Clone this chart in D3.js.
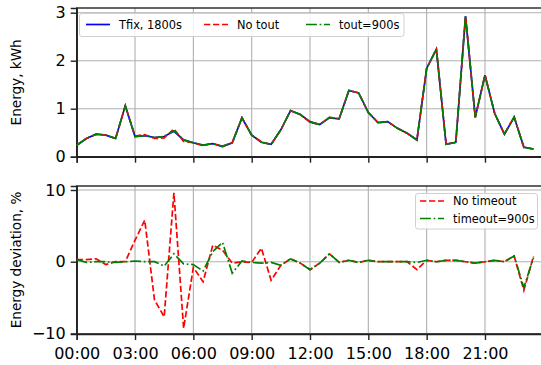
<!DOCTYPE html>
<html>
<head>
<meta charset="utf-8">
<script src="https://cdn.jsdelivr.net/npm/d3@7"></script>
<style>
  html, body { margin: 0; padding: 0; background: #fff; }
  svg { display: block; font-family: 'DejaVu Sans', sans-serif; }
  .grid line { stroke: #b0b0b0; stroke-width: 1.1; }
  .axis path, .axis line { stroke: #222; stroke-width: 1.4; }
  .axis text { fill: #000; font-size: 16px; font-family: 'DejaVu Sans', sans-serif; }
</style>
</head>
<body>
<svg id="chart"></svg>
<script>
// Half-hour time slots
const times = [
  '00:00', '00:30', '01:00', '01:30', '02:00', '02:30', '03:00', '03:30',
  '04:00', '04:30', '05:00', '05:30', '06:00', '06:30', '07:00', '07:30',
  '08:00', '08:30', '09:00', '09:30', '10:00', '10:30', '11:00', '11:30',
  '12:00', '12:30', '13:00', '13:30', '14:00', '14:30', '15:00', '15:30',
  '16:00', '16:30', '17:00', '17:30', '18:00', '18:30', '19:00', '19:30',
  '20:00', '20:30', '21:00', '21:30', '22:00', '22:30', '23:00', '23:30'
];

// Energy per slot, kWh (the three runs overlap at this scale)
const energyTfix = [
  0.24, 0.38, 0.47, 0.45, 0.38, 1.06, 0.42, 0.44, 0.40, 0.42, 0.53, 0.35,
  0.29, 0.24, 0.27, 0.21, 0.29, 0.81, 0.45, 0.30, 0.26, 0.56, 0.96, 0.88,
  0.73, 0.67, 0.81, 0.79, 1.38, 1.33, 0.92, 0.71, 0.73, 0.59, 0.49, 0.35,
  1.84, 2.24, 0.26, 0.30, 2.93, 0.82, 1.70, 0.90, 0.47, 0.82, 0.20, 0.16
];
const energyNoTout = [
  0.24, 0.38, 0.47, 0.45, 0.38, 1.06, 0.43, 0.46, 0.38, 0.39, 0.58, 0.32,
  0.29, 0.23, 0.28, 0.21, 0.29, 0.81, 0.45, 0.31, 0.25, 0.56, 0.96, 0.88,
  0.72, 0.67, 0.82, 0.79, 1.38, 1.33, 0.92, 0.71, 0.73, 0.59, 0.49, 0.35,
  1.84, 2.24, 0.26, 0.30, 2.93, 0.82, 1.70, 0.90, 0.47, 0.83, 0.19, 0.16
];
const energyTout900 = [
  0.24, 0.38, 0.47, 0.45, 0.38, 1.06, 0.42, 0.44, 0.40, 0.42, 0.54, 0.35,
  0.29, 0.24, 0.27, 0.22, 0.29, 0.81, 0.45, 0.30, 0.26, 0.56, 0.96, 0.88,
  0.72, 0.67, 0.82, 0.79, 1.38, 1.33, 0.92, 0.71, 0.73, 0.59, 0.49, 0.35,
  1.84, 2.24, 0.26, 0.30, 2.93, 0.82, 1.70, 0.90, 0.47, 0.83, 0.19, 0.16
];

// Energy deviation against Tfix, %
const devNoTimeout = [
  0.3, 0.3, 0.4, -0.4, 0.0, 0.0, 3.0, 5.8, -5.3, -7.7, 9.6, -9.3,
  -0.8, -2.8, 2.3, 1.6, -0.2, 0.0, -0.1, 1.9, -2.6, -0.5, 0.4, -0.2,
  -1.1, -0.2, 1.1, -0.1, 0.2, -0.1, 0.2, 0.0, 0.0, 0.0, 0.0, -1.1,
  0.2, 0.0, 0.2, 0.2, 0.0, -0.2, 0.0, 0.2, 0.0, 0.8, -4.0, 0.8
];
const devTimeout900 = [
  0.3, -0.1, 0.0, 0.0, -0.1, 0.0, 0.1, 0.0, 0.0, -0.6, 1.1, -0.3,
  -0.4, -1.3, 1.4, 2.7, -1.6, 0.1, -0.1, -0.2, -0.1, -0.5, 0.4, -0.2,
  -1.1, -0.2, 1.1, -0.1, 0.2, -0.1, 0.2, 0.0, 0.0, 0.0, 0.0, -0.1,
  0.2, 0.0, 0.2, 0.2, 0.0, -0.2, 0.0, 0.2, 0.0, 0.8, -3.6, 0.6
];

// Tick labels
const xTickLabels = ['00:00', '03:00', '06:00', '09:00', '12:00', '15:00', '18:00', '21:00'];
const energyTicks = [0, 1, 2, 3];
const devTicks = [-10, 0, 10];

const width = 541;
const height = 365;
const parseTime = d3.utcParse('%H:%M');
const dayStart = parseTime('00:00');
const dates = times.map(parseTime);

const svg = d3.select('#chart').attr('width', width).attr('height', height);
svg.append('rect').attr('width', width).attr('height', height).attr('fill', '#fff');

// Shared time scale
const x = d3.scaleUtc()
  .domain([dayStart, d3.utcDay.offset(dayStart, 1)])
  .range([76.7, 543.3]);
const xTickValues = xTickLabels.map(parseTime);

// Panel geometry
const topPanel = { y0: 8, y1: 156.7 };
const botPanel = { y0: 186, y1: 334 };

const yEnergy = d3.scaleLinear().domain([0, 3.098]).range([topPanel.y1, topPanel.y0]);
const yDev = d3.scaleLinear().domain([-10.08, 10.56]).range([botPanel.y1, botPanel.y0]);

function drawPanel(panel, y, yTicks, showXLabels, label) {
  const g = svg.append('g');

  // grid
  const grid = g.append('g').attr('class', 'grid');
  grid.selectAll('.gx').data(xTickValues).enter().append('line')
    .attr('x1', d => x(d)).attr('x2', d => x(d))
    .attr('y1', panel.y0).attr('y2', panel.y1);
  grid.selectAll('.gy').data(yTicks).enter().append('line')
    .attr('x1', x.range()[0]).attr('x2', x.range()[1])
    .attr('y1', d => y(d)).attr('y2', d => y(d));

  // axes
  g.append('g').attr('class', 'axis')
    .attr('transform', 'translate(0,' + panel.y1 + ')')
    .call(d3.axisBottom(x).tickValues(xTickValues).tickSizeOuter(0).tickSize(6)
      .tickPadding(8)
      .tickFormat(showXLabels ? d3.utcFormat('%H:%M') : () => ''));
  g.append('g').attr('class', 'axis')
    .attr('transform', 'translate(' + x.range()[0] + ',0)')
    .call(d3.axisLeft(y).tickValues(yTicks).tickSizeOuter(0).tickSize(6)
      .tickPadding(5)
      .tickFormat(d => (d < 0 ? '\u2212' + Math.abs(d) : d)));

  // frame
  g.append('rect')
    .attr('x', x.range()[0]).attr('y', panel.y0)
    .attr('width', x.range()[1] - x.range()[0]).attr('height', panel.y1 - panel.y0)
    .attr('fill', 'none').attr('stroke', '#222').attr('stroke-width', 1.4);

  // axis title
  g.append('text')
    .attr('transform', 'translate(17,' + (panel.y0 + panel.y1) / 2 + ') rotate(-90)')
    .attr('text-anchor', 'middle')
    .attr('dominant-baseline', 'middle')
    .attr('font-size', 13.6)
    .text(label);
  return g;
}

function drawLines(g, series, y) {
  const line = d3.line().x((d, i) => x(dates[i])).y(d => y(d));
  series.forEach(s => {
    g.append('path')
      .datum(s.values)
      .attr('d', line)
      .attr('fill', 'none')
      .attr('stroke', s.color)
      .attr('stroke-width', 1.7)
      .attr('stroke-dasharray', s.dash);
  });
}

function drawLegend(items, x0, y0, w, h, layout) {
  const g = svg.append('g');
  g.append('rect')
    .attr('x', x0).attr('y', y0).attr('width', w).attr('height', h)
    .attr('rx', 2.5)
    .attr('fill', 'rgba(255,255,255,0.85)')
    .attr('stroke', '#d0d0d0').attr('stroke-width', 1);
  items.forEach((s, i) => {
    const p = layout(i);
    g.append('line')
      .attr('x1', p.x).attr('x2', p.x + 24)
      .attr('y1', p.y).attr('y2', p.y)
      .attr('stroke', s.color).attr('stroke-width', 1.7)
      .attr('stroke-dasharray', s.dash);
    g.append('text')
      .attr('x', p.x + 33).attr('y', p.y)
      .attr('dominant-baseline', 'central')
      .attr('font-size', 11.4)
      .text(s.name);
  });
}

const dashed = '6.3,2.7';
const dashDot = '10.9,2.7,1.7,2.7';

// Top panel: energy
const topSeries = [
  { name: 'Tfix, 1800s', values: energyTfix, color: '#0000ff', dash: null },
  { name: 'No tout', values: energyNoTout, color: '#ff0000', dash: dashed },
  { name: 'tout=900s', values: energyTout900, color: '#008000', dash: dashDot }
];
const gTop = drawPanel(topPanel, yEnergy, energyTicks, false, 'Energy, kWh');
drawLines(gTop, topSeries, yEnergy);
const topLegendX = [86, 204, 306];
drawLegend(topSeries, 79.5, 13.5, 324.5, 23, i => ({ x: topLegendX[i], y: 24.5 }));

// Bottom panel: deviation
const botSeries = [
  { name: 'No timeout', values: devNoTimeout, color: '#ff0000', dash: dashed },
  { name: 'timeout=900s', values: devTimeout900, color: '#008000', dash: dashDot }
];
const gBot = drawPanel(botPanel, yDev, devTicks, true, 'Energy deviation, %');
drawLines(gBot, botSeries, yDev);
drawLegend(botSeries, 415.5, 193.5, 122, 35.5, i => ({ x: 420, y: 201 + i * 17.5 }));
</script>
</body>
</html>
